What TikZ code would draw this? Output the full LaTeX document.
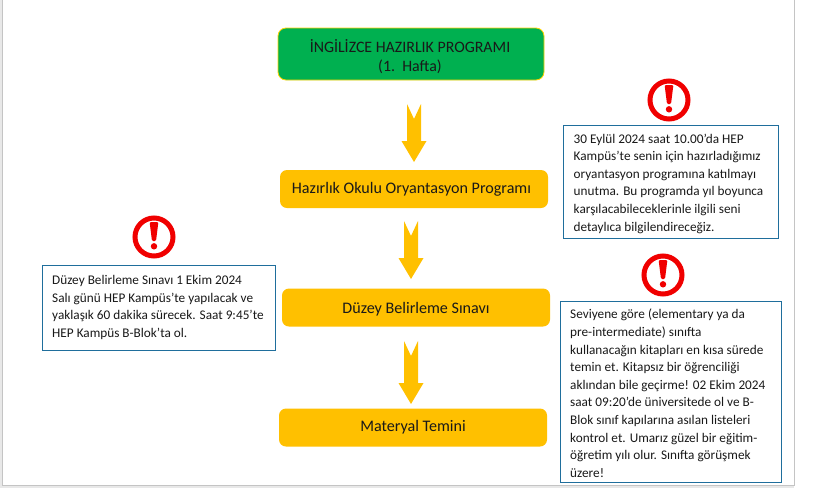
\documentclass[tikz,border=0pt]{standalone}
\usepackage{fontspec}
\setmainfont{Carlito}
\definecolor{gold}{HTML}{FFC000}
\definecolor{grn}{HTML}{00B050}
\definecolor{bluebd}{HTML}{1F6E9C}
\definecolor{warn}{HTML}{F00000}
\definecolor{pagebg}{HTML}{E8E8E8}
\definecolor{pagebd}{HTML}{C4C4C4}
\tikzset{
  x=1pt,y=-1pt,
  stagebox/.style={fill=gold,rounded corners=7pt,inner sep=0pt},
  stagetext/.style={inner sep=0pt,align=center,text=black!90,font=\fontsize{16.1}{19}\selectfont},
  titlebox/.style={fill=grn,draw=gold!70!yellow,line width=.8pt,rounded corners=8pt,inner sep=0pt},
  notebox/.style={draw=bluebd,line width=.9pt,fill=white,inner sep=0pt},
  notetext/.style={anchor=north west,inner sep=0pt,align=left,text=black!90,font=\fontsize{13.25}{17.6}\selectfont},
  downarrow/.style={fill=gold,draw=none},
}
\newcommand{\warnsign}[3]{% name, x, y
  \node[circle,draw=warn,line width=5pt,minimum size=38pt,inner sep=0pt,fill=white] (#1) at (#2,#3) {};
  \fill[warn,rounded corners=1.2pt] (#2-4.4,#3-15) -- (#2+4.4,#3-15) -- (#2+2,#3+4) -- (#2-2,#3+4) -- cycle;
  \fill[warn] (#2,#3+9.3) circle (3.2pt);
}
\newcommand{\downarr}[3]{% x, ytop, ybottom
  \fill[downarrow] (#1-7,#2) -- (#1,#2+15) -- (#1+7,#2) -- (#1+7,#3-21) -- (#1+12.5,#3-21) -- (#1,#3) -- (#1-12.5,#3-21) -- (#1-7,#3-21) -- cycle;
}
\begin{document}
\begin{tikzpicture}
\useasboundingbox (0,0) rectangle (819,488);
\fill[white] (0,0) rectangle (819,488);
\fill[pagebg] (0,0) rectangle (794,488);
\fill[white] (2.5,0) rectangle (794,485);
\draw[pagebd,line width=1pt] (2.5,0) -- (2.5,485) -- (794,485) -- (794,0);

\node[titlebox,minimum width=266pt,minimum height=52pt] (title) at (411,54) {};
\node[inner sep=0pt,align=center,text=black!90,font=\fontsize{15.9}{19}\selectfont] (titletext) at (410,56.500) {İNGİLİZCE HAZIRLIK PROGRAMI\\(1.~~Hafta)};
\node[stagebox,minimum width=268pt,minimum height=38pt] (s1) at (414,189) {};
\node[stagetext] (s1t) at (411.500,189) {Hazırlık Okulu Oryantasyon Programı};
\node[stagebox,minimum width=268pt,minimum height=38pt] (s2) at (416,307.500) {};
\node[stagetext] (s2t) at (416,309) {Düzey Belirleme Sınavı};
\node[stagebox,minimum width=268pt,minimum height=38pt] (s3) at (413,427.500) {};
\node[stagetext] (s3t) at (413,427) {Materyal Temini};

\downarr{414}{104}{162}
\downarr{411}{221}{279}
\downarr{411}{341}{404}

\warnsign{w1}{669}{100}
\warnsign{w2}{154}{237}
\warnsign{w3}{663}{275}

\node[notebox,minimum width=215pt,minimum height=113pt] (n1) at (671,181.500) {};
\node[notetext] at (573.500,133.500) {30 Eylül 2024 saat 10.00’da HEP\\Kampüs’te senin için hazırladığımız\\oryantasyon programına katılmayı\\unutma. Bu programda yıl boyunca\\karşılacabileceklerinle ilgili seni\\detaylıca bilgilendireceğiz.};

\node[notebox,minimum width=233pt,minimum height=85pt] (n2) at (159,308) {};
\node[notetext] at (52,275) {Düzey Belirleme Sınavı 1 Ekim 2024\\Salı günü HEP Kampüs’te yapılacak ve\\yaklaşık 60 dakika sürecek. Saat 9:45’te\\HEP Kampüs B-Blok’ta ol.};

\node[notebox,minimum width=221.500pt,minimum height=181pt] (n3) at (671,392) {};
\node[notetext] at (570,309) {Seviyene göre (elementary ya da\\pre-intermediate) sınıfta\\kullanacağın kitapları en kısa sürede\\temin et. Kitapsız bir öğrenciliği\\aklından bile geçirme! 02 Ekim 2024\\saat 09:20’de üniversitede ol ve B-\\Blok sınıf kapılarına asılan listeleri\\kontrol et. Umarız güzel bir eğitim-\\öğretim yılı olur. Sınıfta görüşmek\\üzere!};
\end{tikzpicture}
\end{document}
